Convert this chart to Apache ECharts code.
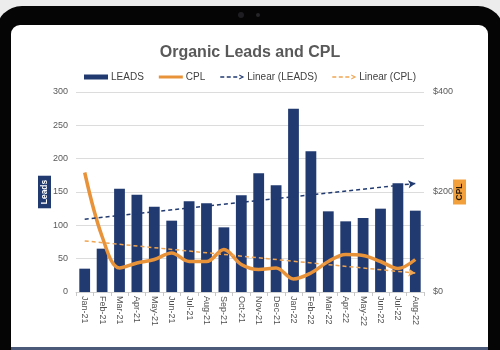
<!DOCTYPE html>
<html><head><meta charset="utf-8">
<script src="https://cdn.jsdelivr.net/npm/echarts@6/dist/echarts.min.js"></script>
<style>
html,body{margin:0;padding:0;width:500px;height:350px;overflow:hidden;background:#ececec;}
.bezel{position:absolute;left:-4px;top:6px;width:508px;height:420px;background:#050505;border-radius:26px;}
.screen{position:absolute;left:11px;top:25px;width:477px;height:323px;background:#ffffff;border-radius:9px 9px 0 0;}
.edge{position:absolute;left:11px;top:347px;width:477px;height:3px;background:#4b5a78;}
.cam1{position:absolute;left:238px;top:12px;width:6px;height:6px;border-radius:3px;background:#1e1e22;}
.cam2{position:absolute;left:256px;top:13px;width:4px;height:4px;border-radius:2px;background:#26262a;}
#chart{position:absolute;left:0;top:0;width:500px;height:350px;}
</style></head>
<body>
<div class="bezel"></div><div class="screen"></div><div class="edge"></div>
<div class="cam1"></div><div class="cam2"></div>
<div id="chart"></div>
<script>
const categories = ['Jan-21','Feb-21','Mar-21','Apr-21','May-21','Jun-21','Jul-21','Aug-21','Sep-21','Oct-21','Nov-21','Dec-21','Jan-22','Feb-22','Mar-22','Apr-22','May-22','Jun-22','Jul-22','Aug-22'];
const leads = [35,65,155,146,128,107,136,133,97,145,178,160,275,211,121,106,111,125,163,122];
const cpl = [239,111,48,58,65,78,61,61,85,55,45,48,26,38,61,75,73,61,47,65];
const leadsTicks = ['0','50','100','150','200','250','300'];
const cplTicks = ['$0','$200','$400'];

function linearFit(ys){
  const n = ys.length;
  let sx=0, sy=0, sxx=0, sxy=0;
  ys.forEach((y,i)=>{sx+=i;sy+=y;sxx+=i*i;sxy+=i*y;});
  const b = (n*sxy - sx*sy)/(n*sxx - sx*sx);
  const a = (sy - b*sx)/n;
  return ys.map((_,i)=>a+b*i);
}
const leadsTrend = linearFit(leads);
const cplTrend = linearFit(cpl);

const NAVY = '#213a70', ORANGE = '#e8923a', ORANGE_T = '#f0a552';
const FONT = '"Liberation Sans", Arial, sans-serif';
const last = categories.length - 1;

function trendMark(tr, color){
  return {
    silent:true, symbol:['none','arrow'], symbolSize:[6,7],
    label:{show:false},
    lineStyle:{type:[4,3], width:1.5, color:color},
    data:[[{coord:[categories[0], tr[0]]},{coord:[categories[last], tr[last]]}]]
  };
}

const chart = echarts.init(document.getElementById('chart'), null, {renderer:'canvas'});
chart.setOption({
  animation:false,
  backgroundColor:'transparent',
  textStyle:{fontFamily:FONT},
  title:{text:'Organic Leads and CPL', left:'center', top:40,
    textStyle:{fontSize:16, fontWeight:'bold', color:'#595959', fontFamily:FONT}},
  legend:{
    top:67, left:'center', itemGap:15, itemWidth:24, itemHeight:6, symbolKeepAspect:true,
    textStyle:{fontSize:10, color:'#404040', fontFamily:FONT, padding:[0,0,0,-2]},
    data:[
      {name:'LEADS', icon:'path://M0,0h24v5h-24z'},
      {name:'CPL', icon:'path://M0,0h24v3h-24z'},
      {name:'Linear (LEADS)', icon:'path://M0,2.3h4v1.4h-4z M6.5,2.3h4v1.4h-4z M13,2.3h4v1.4h-4z M19,0.5L24,3L19,5.5L19,4.2L21.6,3L19,1.8z'},
      {name:'Linear (CPL)', icon:'path://M0,2.3h4v1.4h-4z M6.5,2.3h4v1.4h-4z M13,2.3h4v1.4h-4z M19,0.5L24,3L19,5.5L19,4.2L21.6,3L19,1.8z'}
    ]
  },
  grid:{left:76, right:76, top:92, bottom:58, containLabel:false},
  xAxis:{
    type:'category', data:categories, boundaryGap:true,
    axisLine:{lineStyle:{color:'#d0d0d0'}},
    axisTick:{show:true, length:4, lineStyle:{color:'#c8c8c8'}},
    axisLabel:{rotate:-90, fontSize:9, color:'#505050', margin:4, interval:0, fontFamily:FONT}
  },
  yAxis:[
    {type:'value', min:Number(leadsTicks[0]), max:Number(leadsTicks[leadsTicks.length-1]),
     interval:Number(leadsTicks[1])-Number(leadsTicks[0]),
     axisLine:{show:false}, axisTick:{show:false},
     splitLine:{lineStyle:{color:'#dcdcdc', width:1}},
     axisLabel:{fontSize:9, color:'#595959', margin:8, fontFamily:FONT,
       formatter:(v)=>leadsTicks[Math.round(v/50)]},
     name:'Leads', nameLocation:'middle', nameRotate:90, nameGap:25, nameMoveOverlap:false,
     nameTextStyle:{fontSize:8.5, fontWeight:'bold', color:'#ffffff', backgroundColor:NAVY,
       padding:[2,4,2,4], fontFamily:FONT}
    },
    {type:'value', min:0, max:400, interval:200,
     axisLine:{show:false}, axisTick:{show:false}, splitLine:{show:false},
     axisLabel:{fontSize:9, color:'#595959', margin:9, fontFamily:FONT,
       formatter:(v)=>cplTicks[Math.round(v/200)]},
     name:'CPL', nameLocation:'middle', nameRotate:90, nameGap:29, nameMoveOverlap:false,
     nameTextStyle:{fontSize:8.5, fontWeight:'bold', color:'#2a1a05', backgroundColor:'#f2a03c',
       padding:[2,4,2,4], fontFamily:FONT}
    }
  ],
  series:[
    {name:'LEADS', type:'bar', data:leads, barWidth:'62%', yAxisIndex:0,
     itemStyle:{color:NAVY}, z:2},
    {name:'CPL', type:'line', data:cpl, yAxisIndex:1, smooth:0.35, symbol:'none',
     itemStyle:{color:ORANGE}, lineStyle:{color:ORANGE, width:3.5}, z:4},
    {name:'Linear (LEADS)', type:'line', data:leadsTrend, yAxisIndex:0, symbol:'none',
     itemStyle:{color:NAVY}, lineStyle:{width:0, opacity:0}, z:5,
     markLine:trendMark(leadsTrend, NAVY)},
    {name:'Linear (CPL)', type:'line', data:cplTrend, yAxisIndex:1, symbol:'none',
     itemStyle:{color:ORANGE_T}, lineStyle:{width:0, opacity:0}, z:5,
     markLine:trendMark(cplTrend, ORANGE_T)}
  ]
});
</script>
</body></html>
